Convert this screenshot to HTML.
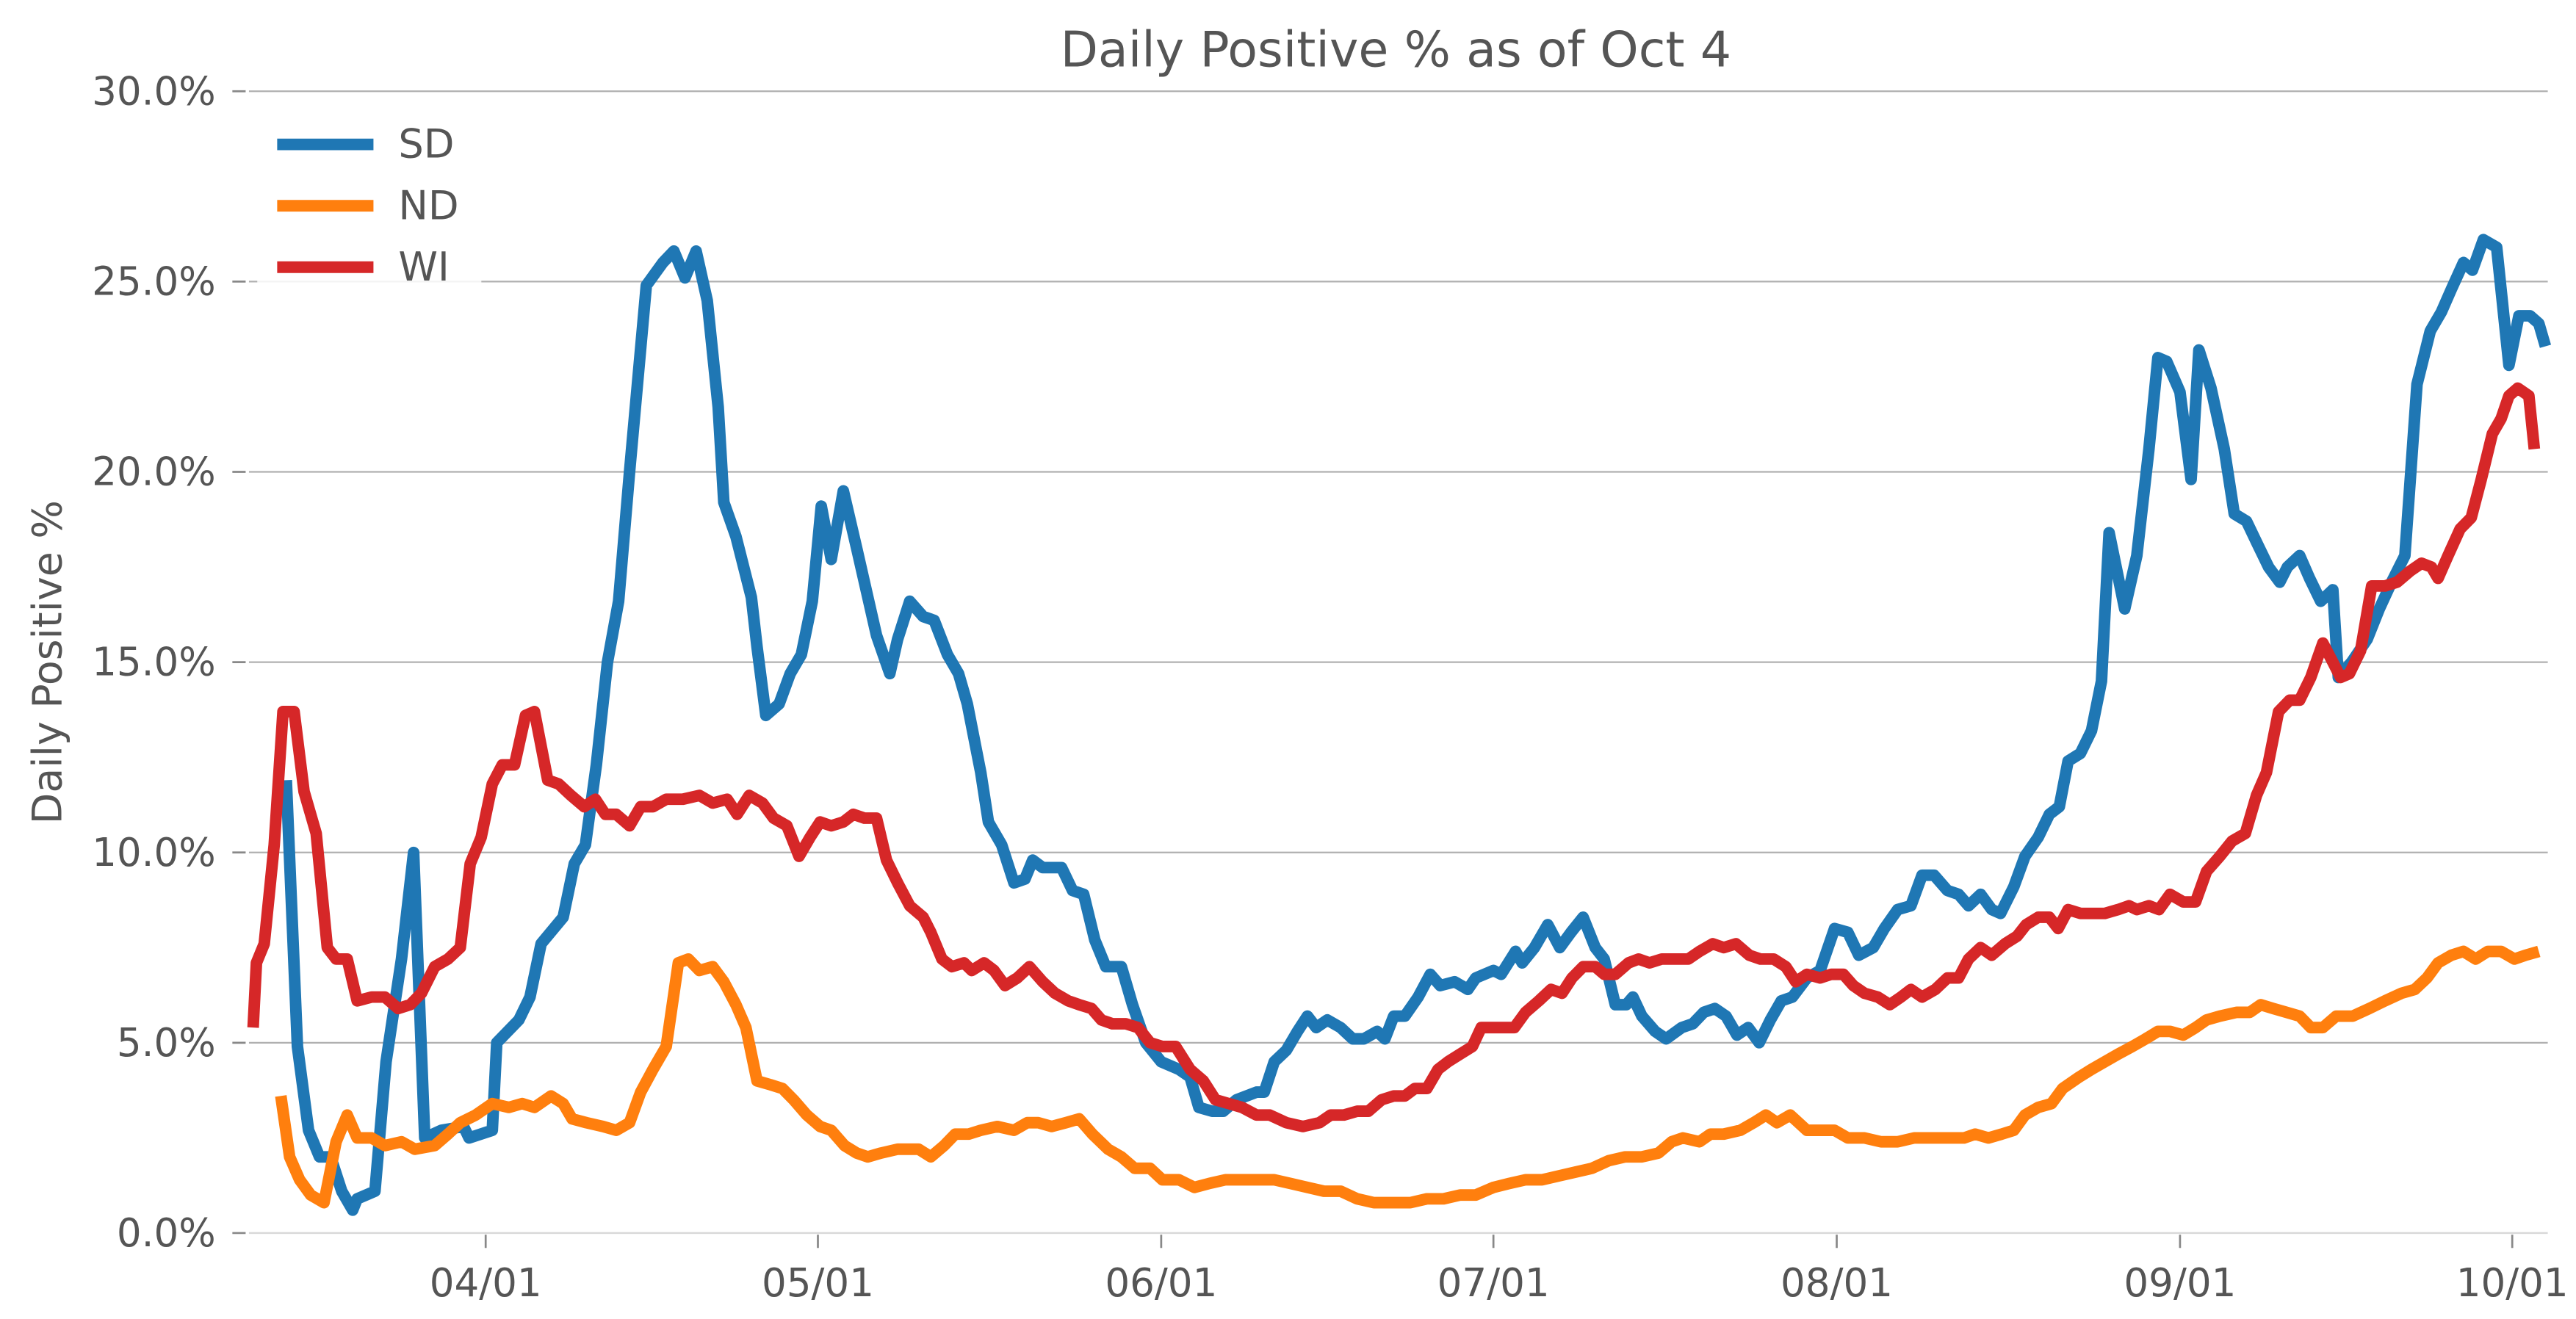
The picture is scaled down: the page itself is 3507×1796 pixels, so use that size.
<!DOCTYPE html>
<html><head><meta charset="utf-8"><style>
html,body{margin:0;padding:0;background:#fff;}
svg{display:block;}
text{font-family:"DejaVu Sans","Liberation Sans",sans-serif;fill:#555;}
</style></head><body>
<svg id="chart" width="3507" height="1796" viewBox="0 0 1552 794.8" xmlns="http://www.w3.org/2000/svg">
<rect width="1552" height="794.8" fill="#fff"/>
<text x="841" y="40" font-size="29.5" text-anchor="middle">Daily Positive % as of Oct 4</text>
<text transform="translate(37,399) rotate(-90)" font-size="24.5" text-anchor="middle">Daily Positive %</text>
<g id="grid"></g><g id="axes"></g><g id="series"></g><g id="legend"></g>
</svg>
<script>
// day offsets from 2020-03-11
const xTickDays = [21, 51, 82, 112, 143, 174, 204];
const xTickLabels = ["04/01","05/01","06/01","07/01","08/01","09/01","10/01"];
const yTicks = [0,5,10,15,20,25,30];
const seriesNames = ["SD","ND","WI"];
const seriesColors = ["#1f77b4","#ff7f0e","#d62728"];

const sdDays = [3,4,5,6,7,8,9,9.4,11,12,13.4,14.5,15.5,17,19,19.5,21.6,22,24,25,26,28,29,30,31,32,33,34,35.5,37,38,39,40,41,42,42.5,43.6,45,45.5,46.3,47.5,48.5,49.5,50.5,51.3,52.2,53.3,54.5,56.3,57.5,58.2,59.3,60.5,61.5,62.7,63.7,64.5,65.7,66.4,67.6,68.7,69.7,70.4,71.3,73,74,75,76,77,78.4,79.4,80.6,82,83.6,84.6,85.4,86.6,87.6,88.8,90.6,91.3,92.2,93.3,94.3,95.2,96,97,98.2,99.3,100.3,101.5,102.2,103,104,105.2,106.3,107.2,108.5,109.7,110.4,112,112.7,114,114.6,115.7,116.9,118,119,120.1,121.2,122,123,124,124.6,125.4,126.6,127.6,129,130,131,132,133,134,135,136,137,138,139,140.3,141.5,142.8,144,145,146.3,147.3,148.5,149.7,150.7,151.8,153,154,154.9,156,157,157.8,159,160,161.2,162.2,163.1,163.9,165,166,166.9,167.6,169,170.1,171.2,172,172.8,174,175,175.7,176.8,178,178.9,180,181,182,183,183.7,184.8,185.7,186.7,187.8,188.3,189.5,190.9,192,193.1,194.3,195.4,196.6,197.6,198.5,199.6,200.4,201.4,202.6,203.7,204.6,205.6,206.4,207];
const sdValues = [11.9,4.9,2.7,2.0,2.0,1.1,0.6,0.9,1.1,4.5,7.2,10.0,2.5,2.7,2.8,2.5,2.7,5.0,5.6,6.2,7.6,8.3,9.7,10.2,12.3,15.0,16.6,20.0,24.9,25.5,25.8,25.1,25.8,24.5,21.7,19.2,18.3,16.7,15.4,13.6,13.9,14.7,15.2,16.6,19.1,17.7,19.5,18.0,15.7,14.7,15.6,16.6,16.2,16.1,15.2,14.7,13.9,12.1,10.8,10.2,9.2,9.3,9.8,9.6,9.6,9.0,8.9,7.7,7.0,7.0,6.0,5.0,4.5,4.3,4.1,3.3,3.2,3.2,3.5,3.7,3.7,4.5,4.8,5.3,5.7,5.4,5.6,5.4,5.1,5.1,5.3,5.1,5.7,5.7,6.2,6.8,6.5,6.6,6.4,6.7,6.9,6.8,7.4,7.1,7.5,8.1,7.5,7.9,8.3,7.5,7.2,6.0,6.0,6.2,5.7,5.3,5.1,5.4,5.5,5.8,5.9,5.7,5.2,5.4,5.0,5.6,6.1,6.2,6.7,6.9,8.0,7.9,7.3,7.5,8.0,8.5,8.6,9.4,9.4,9.0,8.9,8.6,8.9,8.5,8.4,9.1,9.9,10.4,11.0,11.2,12.4,12.6,13.2,14.5,18.4,16.4,17.8,20.6,23.0,22.9,22.1,19.8,23.2,22.2,20.6,18.9,18.7,18.1,17.5,17.1,17.5,17.8,17.2,16.6,16.9,14.6,15.0,15.6,16.4,17.1,17.8,22.3,23.7,24.2,24.8,25.5,25.3,26.1,25.9,22.8,24.1,24.1,23.9,23.3];

const ndDays = [2.5,3.3,4.2,5.2,6.4,7.5,8.5,9.4,10.7,11.9,13.4,14.6,16.4,17.6,18.7,20.1,21.6,23.1,24.3,25.4,26.9,28,28.8,30.1,31.6,32.8,34,35,36.1,37.3,38.4,39.3,40.3,41.5,42.5,43.6,44.5,45.5,46.7,47.8,48.8,50,51.2,52.2,53.4,54.5,55.5,56.7,58.2,60.1,61.2,62.4,63.4,64.6,65.7,67.2,68.7,69.9,70.9,72.1,73.4,74.6,75.8,77.2,78.4,79.6,81,82.1,83.6,85,86.3,87.8,89.2,91,92.2,93.7,95.2,96.7,98.2,99.7,101.2,103,104.5,106,107.5,109,110.4,112,113.4,114.9,116.4,117.9,119.4,120.9,122.4,123.9,125.4,126.9,128.1,129.1,130.6,131.6,132.8,134.3,135.5,136.6,137.6,138.8,140.3,141.5,142.8,144,145.5,147,148.5,150,151.5,153,154.5,155.5,156.7,157.9,159,160,161.2,162.4,163.4,164.9,166,167.2,168.4,169.7,170.9,172,173.1,174.3,175.4,176.4,177.6,179.1,180.3,181.3,182.4,183.6,184.8,185.8,186.9,188.1,189.6,191.1,192.5,194,195.2,196.3,197.3,198.5,199.6,200.7,201.8,203,204.2,205.2,206.4];
const ndValues = [3.6,2.0,1.4,1.0,0.8,2.4,3.1,2.5,2.5,2.3,2.4,2.2,2.3,2.6,2.9,3.1,3.4,3.3,3.4,3.3,3.6,3.4,3.0,2.9,2.8,2.7,2.9,3.7,4.3,4.9,7.1,7.2,6.9,7.0,6.6,6.0,5.4,4.0,3.9,3.8,3.5,3.1,2.8,2.7,2.3,2.1,2.0,2.1,2.2,2.2,2.0,2.3,2.6,2.6,2.7,2.8,2.7,2.9,2.9,2.8,2.9,3.0,2.6,2.2,2.0,1.7,1.7,1.4,1.4,1.2,1.3,1.4,1.4,1.4,1.4,1.3,1.2,1.1,1.1,0.9,0.8,0.8,0.8,0.9,0.9,1.0,1.0,1.2,1.3,1.4,1.4,1.5,1.6,1.7,1.9,2.0,2.0,2.1,2.4,2.5,2.4,2.6,2.6,2.7,2.9,3.1,2.9,3.1,2.7,2.7,2.7,2.5,2.5,2.4,2.4,2.5,2.5,2.5,2.5,2.6,2.5,2.6,2.7,3.1,3.3,3.4,3.8,4.1,4.3,4.5,4.7,4.9,5.1,5.3,5.3,5.2,5.4,5.6,5.7,5.8,5.8,6.0,5.9,5.8,5.7,5.4,5.4,5.7,5.7,5.9,6.1,6.3,6.4,6.7,7.1,7.3,7.4,7.2,7.4,7.4,7.2,7.3,7.4];

const wiDays = [0,0.3,1,1.9,2.7,3.7,4.6,5.7,6.7,7.5,8.5,9.4,10.7,11.9,13.1,14.2,15.2,16.4,17.6,18.7,19.6,20.6,21.6,22.5,23.6,24.6,25.4,26.6,27.6,28.7,29.9,30.9,31.8,32.8,34,35,36.1,37.3,38.8,40.3,41.5,42.8,43.7,44.8,46,47,48.2,49.3,50.3,51.2,52.2,53.3,54.2,55.2,56.3,57.2,58.2,59.3,60.5,61.2,62.2,63.1,64.2,64.9,66,66.9,67.9,69,70.1,71.3,72.4,73.6,74.6,75.7,76.6,77.6,78.8,79.9,81,82.1,83.3,84.6,85.8,86.9,88.1,89.3,90.6,91.8,93.3,94.8,96.3,97.3,98.5,99.7,100.7,101.9,103,104,104.9,106,107,107.9,109,110.1,110.9,112,113,113.9,114.9,116.1,117.2,118.2,119.1,120.1,121.2,122,123,124.2,125.1,126.1,127.2,128.4,129.6,130.6,131.8,132.8,133.9,135.1,136.1,137.3,138.4,139.3,140.3,141.5,142.5,143.6,144.5,145.5,146.7,147.8,148.8,149.7,150.7,151.9,153,154,154.9,156,157,158.2,159.3,160.1,161.2,162.2,163,163.9,165,166,167.2,168.4,169.4,170.1,171.2,172.1,173.1,174.3,175.4,176.4,177.6,178.7,179.9,180.9,181.8,182.9,183.9,184.8,185.8,186.9,187.8,188.5,189.3,190.3,191.3,192.5,193.6,194.8,195.8,196.7,197.3,198.2,199.3,200.3,201.2,202.2,203,203.7,204.5,205.5,206];
const wiValues = [5.4,7.1,7.6,10.2,13.7,13.7,11.6,10.5,7.5,7.2,7.2,6.1,6.2,6.2,5.9,6.0,6.3,7.0,7.2,7.5,9.7,10.4,11.8,12.3,12.3,13.6,13.7,11.9,11.8,11.5,11.2,11.4,11.0,11.0,10.7,11.2,11.2,11.4,11.4,11.5,11.3,11.4,11.0,11.5,11.3,10.9,10.7,9.9,10.4,10.8,10.7,10.8,11.0,10.9,10.9,9.8,9.2,8.6,8.3,7.9,7.2,7.0,7.1,6.9,7.1,6.9,6.5,6.7,7.0,6.6,6.3,6.1,6.0,5.9,5.6,5.5,5.5,5.4,5.0,4.9,4.9,4.3,4.0,3.5,3.4,3.3,3.1,3.1,2.9,2.8,2.9,3.1,3.1,3.2,3.2,3.5,3.6,3.6,3.8,3.8,4.3,4.5,4.7,4.9,5.4,5.4,5.4,5.4,5.8,6.1,6.4,6.3,6.7,7.0,7.0,6.8,6.8,7.1,7.2,7.1,7.2,7.2,7.2,7.4,7.6,7.5,7.6,7.3,7.2,7.2,7.0,6.6,6.8,6.7,6.8,6.8,6.5,6.3,6.2,6.0,6.2,6.4,6.2,6.4,6.7,6.7,7.2,7.5,7.3,7.6,7.8,8.1,8.3,8.3,8.0,8.5,8.4,8.4,8.4,8.5,8.6,8.5,8.6,8.5,8.9,8.7,8.7,9.5,9.9,10.3,10.5,11.5,12.1,13.7,14.0,14.0,14.6,15.5,15.0,14.6,14.7,15.3,17.0,17.0,17.1,17.4,17.6,17.5,17.2,17.8,18.5,18.8,19.8,21.0,21.4,22.0,22.2,22.0,20.6];

const NS = "http://www.w3.org/2000/svg";
const plotL = 150, plotR = 1535, plotT = 55, plotB = 743;
function xScale(d){ return 152.5 + 6.672 * d; }
function yScale(v){ return plotB - (v / 30) * (plotB - plotT); }
function mk(tag, attrs, parent){ const e = document.createElementNS(NS, tag); for (const k in attrs) e.setAttribute(k, attrs[k]); parent.appendChild(e); return e; }

const grid = document.getElementById('grid');
const axes = document.getElementById('axes');
yTicks.forEach(v => {
  const y = yScale(v);
  const gl = mk('line', {x1: plotL, x2: plotR, y1: y, y2: y, stroke: v === 0 ? '#d8d8d8' : '#b0b0b0', 'stroke-width': 1}, grid);
  
  
  const tk = mk('line', {x1: 140, x2: 148, y1: y, y2: y, stroke: '#888', 'stroke-width': 1.2}, axes);
  
  
  const t = mk('text', {x: 130, y: y + 8, 'font-size': 23.5, 'text-anchor': 'end'}, axes);
  t.textContent = v.toFixed(1) + '%';
  
  
});
xTickDays.forEach((d, i) => {
  const x = xScale(d);
  const tk = mk('line', {x1: x, x2: x, y1: plotB + 1, y2: plotB + 9, stroke: '#888', 'stroke-width': 1.2}, axes);
  
  
  const t = mk('text', {x: x, y: 781, 'font-size': 23.5, 'text-anchor': 'middle'}, axes);
  t.textContent = xTickLabels[i];
  
  
});

const seriesG = document.getElementById('series');
const allDays = [sdDays, ndDays, wiDays];
const allVals = [sdValues, ndValues, wiValues];
[0, 1, 2].forEach(s => {
  const pts = allDays[s].map((d, i) => xScale(d).toFixed(1) + ',' + yScale(allVals[s][i]).toFixed(1)).join(' ');
  const pl = mk('polyline', {points: pts, fill: 'none', stroke: seriesColors[s], 'stroke-width': 7, 'stroke-linejoin': 'round'}, seriesG);
  
  
});

const legend = document.getElementById('legend');
const lb = mk('rect', {x: 155, y: 64, width: 135, height: 110, fill: '#fff', opacity: 0.85}, legend);


seriesNames.forEach((n, i) => {
  const y = 87 + i * 37;
  const ln = mk('line', {x1: 167, x2: 225, y1: y, y2: y, stroke: seriesColors[i], 'stroke-width': 7}, legend);
  
  
  const t = mk('text', {x: 240, y: y + 8, 'font-size': 24}, legend);
  t.textContent = n;
  
  
});
</script>
</body></html>
